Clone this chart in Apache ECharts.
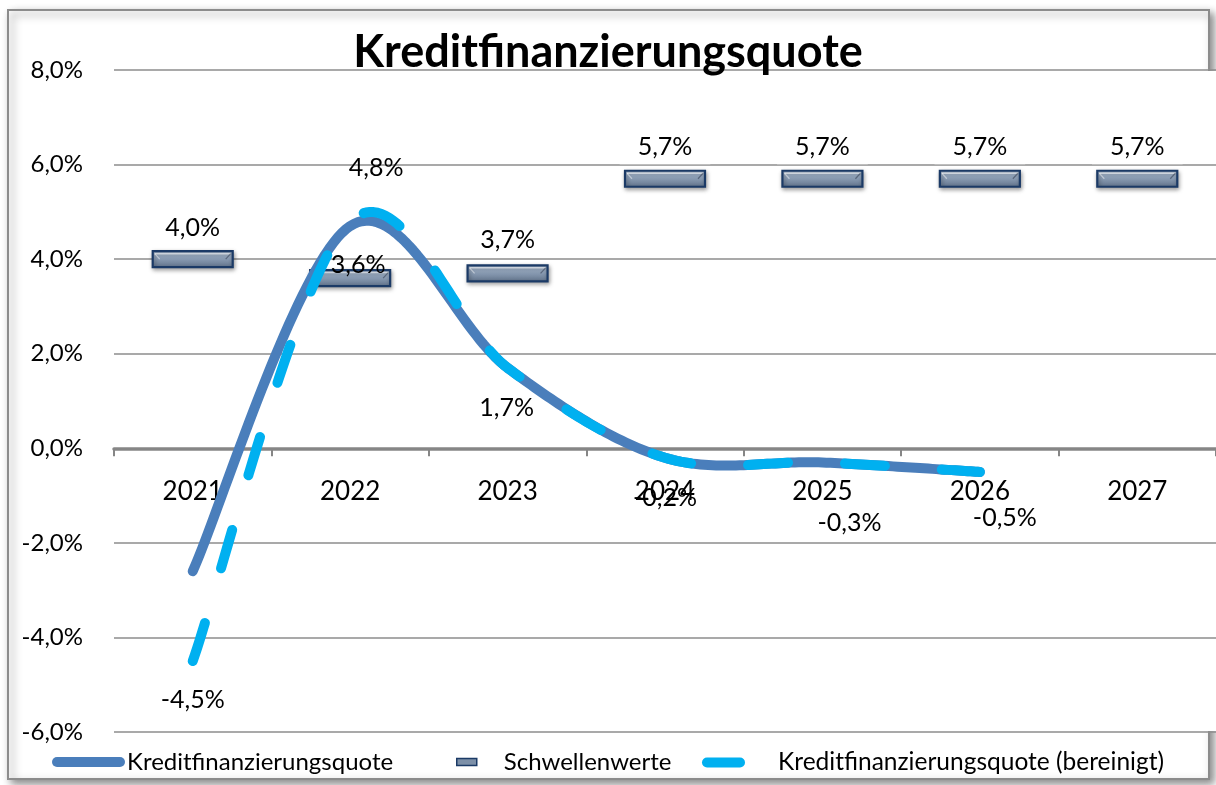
<!DOCTYPE html>
<html>
<head>
<meta charset="utf-8">
<script src="https://cdn.jsdelivr.net/npm/echarts@6/dist/echarts.min.js"></script>
<style>
html,body{margin:0;padding:0;background:#fff;}
#chart{width:1216px;height:785px;}
</style>
</head>
<body>
<div id="chart"></div>
<script>
// ---- data ----
const years = ['2021', '2022', '2023', '2024', '2025', '2026', '2027'];
const quote = [-2.6, 4.7, 1.7, -0.2, -0.3, -0.5, null];          // Kreditfinanzierungsquote
const quoteAdj = [-4.5, 4.8, 1.7, -0.2, -0.3, -0.5, null];       // Kreditfinanzierungsquote (bereinigt)
const thresholds = [4.0, 3.6, 3.7, 5.7, 5.7, 5.7, 5.7];          // Schwellenwerte
const yMin = -6, yMax = 8, yStep = 2;

// ---- layout (label placement, not data) ----
const adjLabelOffsets = [[0, 39], [26, -53], [-1, 40], [0, 40], [27, 60], [25, 46]];
const thrLabelOffsets = [[0, -31], [8, -13], [0, -33], [0, -32], [0, -32], [0, -32], [0, -32]];

const FONT = 'Lato';
const fmt = v => v.toFixed(1).replace('.', ',') + '%';
const C_SOLID = '#4a7ebb';
const C_DASH = '#00b0f0';
const C_NAVY = '#1b3a66';
const GRID = {left: 114, top: 70, width: 1104, height: 662};
const MARK_W = 80, MARK_H = 16;

const toPairs = arr => arr.map((v, i) => (v === null ? null : [i, v])).filter(d => d !== null);

// Excel-like (Catmull-Rom) smoothing of the pixel points returned by the axis scales
function smoothPoints(P) {
  const out = [P[0]];
  for (let i = 0; i < P.length - 1; i++) {
    const p0 = P[i - 1] || P[i], p1 = P[i], p2 = P[i + 1], p3 = P[i + 2] || P[i + 1];
    const c1 = [p1[0] + (p2[0] - p0[0]) / 6, p1[1] + (p2[1] - p0[1]) / 6];
    const c2 = [p2[0] - (p3[0] - p1[0]) / 6, p2[1] - (p3[1] - p1[1]) / 6];
    for (let k = 1; k <= 40; k++) {
      const t = k / 40, u = 1 - t;
      const a = u * u * u, b = 3 * u * u * t, c = 3 * u * t * t, d = t * t * t;
      out.push([a * p1[0] + b * c1[0] + c * c2[0] + d * p2[0],
                a * p1[1] + b * c1[1] + c * c2[1] + d * p2[1]]);
    }
  }
  return out;
}

function curveRenderer(color, dash, offsets) {
  return function (params, api) {
    const children = [];
    if (params.dataIndexInside === 0) {
      const n = params.dataInsideLength;
      const pts = [];
      for (let j = 0; j < n; j++) pts.push(api.coord([api.value(0, j), api.value(1, j)]));
      children.push({
        type: 'polyline',
        shape: {points: smoothPoints(pts)},
        style: {stroke: color, lineWidth: 10, fill: null, lineCap: 'round', lineJoin: 'round', lineDash: dash}
      });
    }
    if (offsets) {
      const p = api.coord([api.value(0), api.value(1)]);
      const o = offsets[params.dataIndex];
      children.push({
        type: 'text', x: p[0] + o[0], y: p[1] + o[1], z2: 20,
        style: {text: fmt(api.value(1)), font: '25px ' + FONT, fill: '#000', align: 'center', verticalAlign: 'middle'}
      });
    }
    return {type: 'group', children};
  };
}

function markerRenderer(params, api) {
  const p = api.coord([api.value(0), api.value(1)]);
  const x = p[0] - MARK_W / 2, y = p[1] - MARK_H / 2;
  const o = thrLabelOffsets[params.dataIndex];
  return {
    type: 'group',
    children: [
      {type: 'rect', shape: {x: x, y: y, width: MARK_W, height: MARK_H},
       style: {
         fill: new echarts.graphic.LinearGradient(0, 0, 0, 1, [
           {offset: 0, color: '#b7c6d9'}, {offset: 0.35, color: '#93a5bc'}, {offset: 1, color: '#5f7189'}
         ]),
         stroke: C_NAVY, lineWidth: 2.2,
         shadowBlur: 4, shadowOffsetX: 1, shadowOffsetY: 2, shadowColor: 'rgba(0,0,0,0.35)'
       }},
      {type: 'polyline', shape: {points: [[x + 2, y + 2.5], [x + MARK_W - 2, y + 2.5]]},
       style: {stroke: 'rgba(255,255,255,0.55)', lineWidth: 1.5, fill: null}},
      {type: 'polyline', shape: {points: [[x + 2, y + 2.5], [x + 7, y + MARK_H / 2]]},
       style: {stroke: 'rgba(255,255,255,0.45)', lineWidth: 1.2, fill: null}},
      {type: 'polyline', shape: {points: [[x + MARK_W - 2, y + 2.5], [x + MARK_W - 7, y + MARK_H / 2]]},
       style: {stroke: 'rgba(40,50,70,0.5)', lineWidth: 1.2, fill: null}},
      {type: 'text', x: p[0] + o[0], y: p[1] + o[1], z2: 20,
       style: {text: fmt(api.value(1)), font: '25px ' + FONT, fill: '#000', align: 'center', verticalAlign: 'middle',
         backgroundColor: params.dataIndex === 1 ? null : '#fff', padding: [4, 18, 6, 18]}}
    ]
  };
}

const chart = echarts.init(document.getElementById('chart'), null, {renderer: 'canvas'});

const zeroOffset = -GRID.height * (0 - yMin) / (yMax - yMin);

const option = {
  backgroundColor: '#fff',
  animation: false,
  textStyle: {fontFamily: FONT},
  graphic: [
    {type: 'rect', z: -10, shape: {x: 8, y: 10, width: 1201, height: 769},
     style: {fill: '#fff', stroke: '#8c8c8c', lineWidth: 2,
       shadowBlur: 8, shadowOffsetX: 4, shadowOffsetY: 4, shadowColor: 'rgba(0,0,0,0.45)'}},
    {type: 'rect', z: -9, shape: {x: 1195, y: 71, width: 21, height: 660}, style: {fill: '#fff'}}
  ],
  title: {
    text: 'Kreditfinanzierungsquote',
    left: 'center', top: 25,
    textStyle: {fontFamily: FONT, fontWeight: 'bold', fontSize: 45, color: '#000'}
  },
  legend: [
    {left: 47, top: 745, itemWidth: 73, itemHeight: 10,
     icon: 'path://M5,0 L68,0 A5,5 0 0 1 68,10 L5,10 A5,5 0 0 1 5,0 Z',
     textStyle: {fontFamily: FONT, fontSize: 24, color: '#000', padding: [0, 0, 0, -3]},
     data: [{name: 'Kreditfinanzierungsquote', itemStyle: {color: C_SOLID}}]},
    {left: 451, top: 745, itemWidth: 20, itemHeight: 7, icon: 'rect',
     textStyle: {fontFamily: FONT, fontSize: 24, color: '#000', padding: [0, 0, 0, 22]},
     data: [{name: 'Schwellenwerte', itemStyle: {color: '#7d90a8', borderColor: C_NAVY, borderWidth: 1.5}}]},
    {left: 697, top: 745, itemWidth: 43, itemHeight: 10,
     icon: 'path://M5,0 L38,0 A5,5 0 0 1 38,10 L5,10 A5,5 0 0 1 5,0 Z',
     textStyle: {fontFamily: FONT, fontSize: 24.5, color: '#000', padding: [0, 0, 0, 28]},
     data: [{name: 'Kreditfinanzierungsquote (bereinigt)', itemStyle: {color: C_DASH}}]}
  ],
  grid: Object.assign({containLabel: false}, GRID),
  xAxis: {
    type: 'category',
    data: years,
    boundaryGap: true,
    offset: zeroOffset,
    axisLine: {onZero: false, lineStyle: {color: '#868686', width: 3.5}},
    axisTick: {show: true, length: 8, lineStyle: {color: '#868686', width: 2}},
    axisLabel: {margin: 30, fontFamily: FONT, fontSize: 26, color: '#000'},
    splitLine: {show: false}
  },
  yAxis: {
    type: 'value',
    min: yMin, max: yMax, interval: yStep,
    axisLine: {show: false},
    axisTick: {show: false},
    axisLabel: {margin: 31, fontFamily: FONT, fontSize: 24, color: '#000', formatter: v => fmt(v)},
    splitLine: {show: true, lineStyle: {color: '#8c8c8c', width: 1.5}}
  },
  series: [
    {
      name: 'Kreditfinanzierungsquote',
      type: 'custom',
      data: toPairs(quote),
      encode: {x: 0, y: 1},
      z: 3,
      itemStyle: {color: C_SOLID},
      renderItem: curveRenderer(C_SOLID, null, null)
    },
    {
      name: 'Schwellenwerte',
      type: 'custom',
      data: toPairs(thresholds),
      encode: {x: 0, y: 1},
      z: 2,
      itemStyle: {color: '#7d90a8'},
      renderItem: markerRenderer
    },
    {
      name: 'Kreditfinanzierungsquote (bereinigt)',
      type: 'custom',
      data: toPairs(quoteAdj),
      encode: {x: 0, y: 1},
      z: 4,
      itemStyle: {color: C_DASH},
      renderItem: curveRenderer(C_DASH, [40, 57], adjLabelOffsets)
    }
  ]
};
chart.setOption(option);
</script>
</body>
</html>
